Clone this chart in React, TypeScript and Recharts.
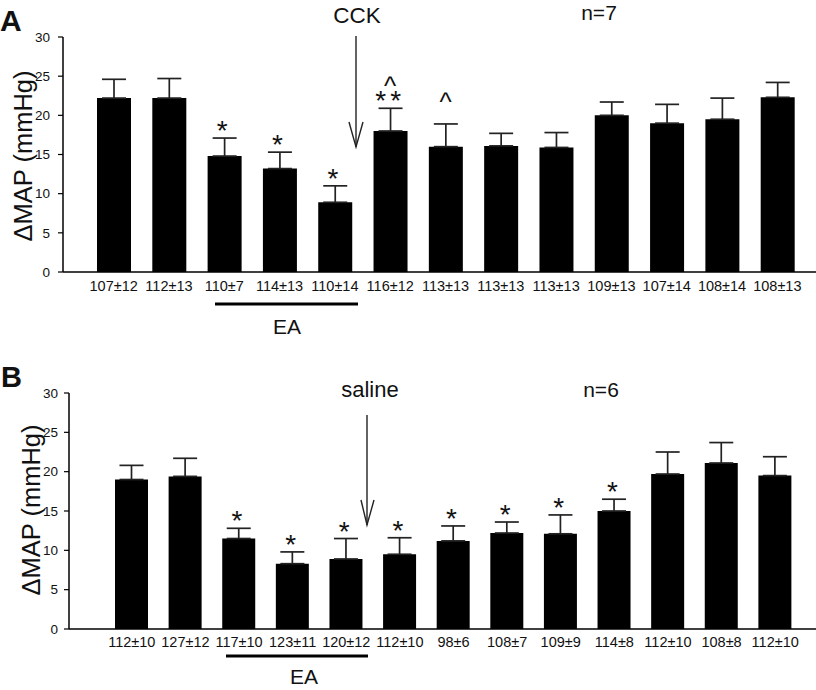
import React from "react";
import { Bar, ComposedChart, ErrorBar, Scatter, XAxis, YAxis } from "recharts";

const FONT = "'Liberation Sans', Arial, sans-serif";
const INK = "#111";

const yTicks = [0, 5, 10, 15, 20, 25, 30];

// panel A: CCK, n=7
const labelsA = ["107±12", "112±13", "110±7", "114±13", "110±14", "116±12", "113±13", "113±13", "113±13", "109±13", "107±14", "108±14", "108±13"];
const meanA = [22.2, 22.2, 14.8, 13.2, 8.9, 18.0, 16.0, 16.1, 15.9, 20.0, 19.0, 19.5, 22.3];
const semA = [2.4, 2.5, 2.3, 2.1, 2.1, 2.9, 2.9, 1.6, 1.9, 1.7, 2.4, 2.7, 1.9];
const starsA = ["", "", "*", "*", "*", "**", "", "", "", "", "", "", ""];
const caretsA = ["", "", "", "", "", "^", "^", "", "", "", "", "", ""];

// panel B: saline, n=6
const labelsB = ["112±10", "127±12", "117±10", "123±11", "120±12", "112±10", "98±6", "108±7", "109±9", "114±8", "112±10", "108±8", "112±10"];
const meanB = [19.0, 19.4, 11.5, 8.3, 8.9, 9.5, 11.2, 12.2, 12.1, 15.0, 19.7, 21.1, 19.5];
const semB = [1.8, 2.3, 1.3, 1.5, 2.6, 2.1, 1.9, 1.4, 2.4, 1.5, 2.8, 2.6, 2.4];
const starsB = ["", "", "*", "*", "*", "*", "*", "*", "*", "*", "", "", ""];
const caretsB = ["", "", "", "", "", "", "", "", "", "", "", "", ""];

function build(labels: string[], means: number[], sems: number[], stars: string[], carets: string[]) {
  return labels.map((label, i) => ({
    id: i,
    label,
    mean: means[i],
    err: [0, sems[i]],
    top: means[i] + sems[i],
    star: stars[i],
    caret: carets[i],
  }));
}

const dataA = build(labelsA, meanA, semA, starsA, caretsA);
const dataB = build(labelsB, meanB, semB, starsB, caretsB);

function XTick(props: any) {
  const { x, y, payload, labels, dy } = props;
  return (
    <text x={x} y={y + dy} textAnchor="middle" fontSize={14.5} fontFamily={FONT} fill={INK}>
      {labels[payload.value]}
    </text>
  );
}

function Marks(props: any) {
  const { cx, cy, payload } = props;
  if (!payload || (!payload.star && !payload.caret)) return <g />;
  return (
    <g>
      {payload.star ? (
        <text x={cx} y={cy + 2} textAnchor="middle" fontSize={28} fontFamily={FONT} fill={INK} letterSpacing={4}>
          {payload.star}
        </text>
      ) : null}
      {payload.caret ? (
        <text x={cx} y={cy + 2 - 15} textAnchor="middle" fontSize={26} fontFamily={FONT} fill={INK}>
          {payload.caret}
        </text>
      ) : null}
    </g>
  );
}

function Panel(props: any) {
  const { data, labels, top, axisW, xH, pad, barSize, tickMargin, dy } = props;
  return (
    <ComposedChart width={816} height={345} data={data} margin={{ top, right: 0, bottom: 0, left: 0 }}>
      <XAxis
        dataKey="id"
        type="category"
        height={xH}
        padding={pad}
        tickLine={false}
        tickSize={0}
        tickMargin={0}
        axisLine={{ stroke: "#000", strokeWidth: 1.5 }}
        interval={0}
        tick={(p: any) => <XTick {...p} labels={labels} dy={dy} />}
      />
      <YAxis
        width={axisW}
        domain={[0, 30]}
        ticks={yTicks}
        interval={0}
        tickSize={5}
        tickMargin={tickMargin}
        axisLine={{ stroke: "#000", strokeWidth: 1.5 }}
        tickLine={{ stroke: "#000", strokeWidth: 1.2 }}
        tick={{ fontSize: 13.5, fontFamily: FONT, fill: INK }}
      />
      <Bar dataKey="mean" fill="#000" barSize={barSize} isAnimationActive={false}>
        <ErrorBar dataKey="err" width={12} stroke="#222" strokeWidth={1.7} direction="y" />
      </Bar>
      <Scatter dataKey="top" shape={<Marks />} isAnimationActive={false} />
    </ComposedChart>
  );
}

const txt = { fontFamily: FONT, fill: INK } as const;

export default function App() {
  return (
    <div style={{ position: "absolute", left: 0, top: 0, width: 816, height: 690, background: "#fff" }}>
      <div style={{ position: "absolute", left: 0, top: 0 }}>
        <Panel data={dataA} labels={labelsA} top={37} axisW={63} xH={73} pad={{ left: 23, right: 11 }} barSize={34} tickMargin={8} dy={19} />
      </div>
      <div style={{ position: "absolute", left: 0, top: 345 }}>
        <Panel data={dataB} labels={labelsB} top={48} axisW={69} xH={61} pad={{ left: 36, right: 14 }} barSize={33} tickMargin={6} dy={18} />
      </div>
      <svg width={816} height={690} style={{ position: "absolute", left: 0, top: 0, pointerEvents: "none" }}>
        {/* panel A annotations */}
        <text x={0} y={31} fontSize={30} fontWeight="bold" {...txt}>A</text>
        <text x={23} y={156} fontSize={25.5} textAnchor="middle" dy="0.35em" transform="rotate(-90 23 156)" {...txt}>ΔMAP (mmHg)</text>
        <text x={357} y={23} fontSize={22.5} textAnchor="middle" {...txt}>CCK</text>
        <text x={599} y={20} fontSize={21} textAnchor="middle" {...txt}>n=7</text>
        <line x1={356} y1={36} x2={356} y2={147} stroke="#222" strokeWidth={1.4} />
        <polyline points="349,122 356,147 363,122" fill="none" stroke="#222" strokeWidth={1.4} />
        <line x1={215} y1={304} x2={358} y2={304} stroke="#000" strokeWidth={3} />
        <text x={287} y={334} fontSize={21} textAnchor="middle" {...txt}>EA</text>

        {/* panel B annotations */}
        <text x={1} y={387} fontSize={29} fontWeight="bold" {...txt}>B</text>
        <text x={31} y={510} fontSize={25.5} textAnchor="middle" dy="0.35em" transform="rotate(-90 31 510)" {...txt}>ΔMAP (mmHg)</text>
        <text x={370} y={397} fontSize={22} textAnchor="middle" {...txt}>saline</text>
        <text x={601} y={397} fontSize={21} textAnchor="middle" {...txt}>n=6</text>
        <line x1={367} y1={415} x2={367} y2={525} stroke="#222" strokeWidth={1.4} />
        <polyline points="361,500 367,525 374,500" fill="none" stroke="#222" strokeWidth={1.4} />
        <line x1={226} y1={656} x2={368} y2={656} stroke="#000" strokeWidth={3} />
        <text x={304} y={684} fontSize={21} textAnchor="middle" {...txt}>EA</text>
      </svg>
    </div>
  );
}
